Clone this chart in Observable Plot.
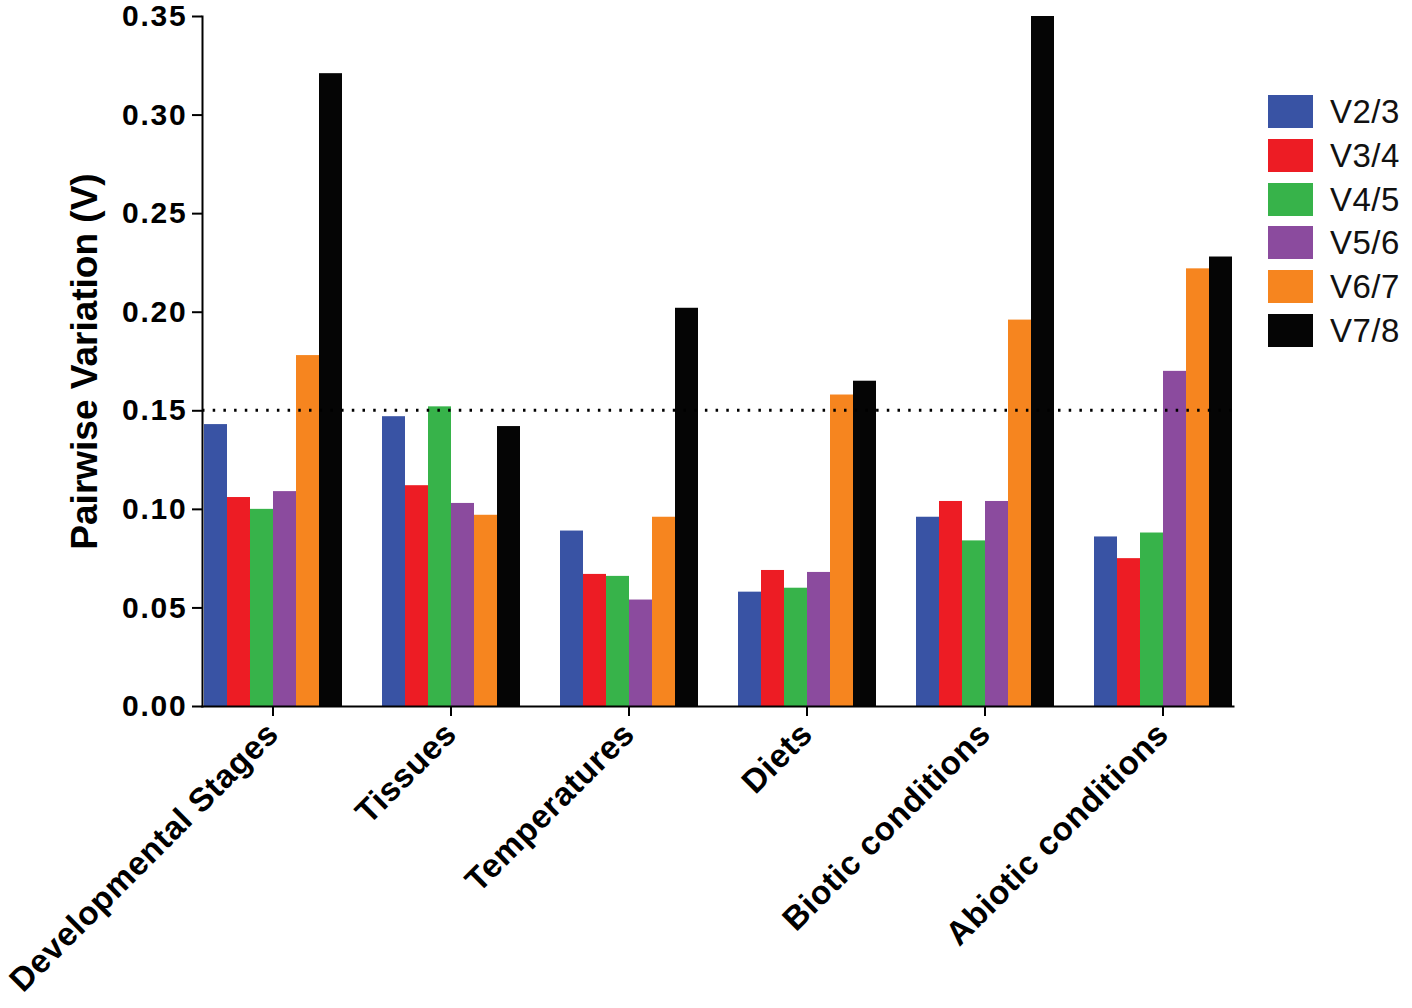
<!DOCTYPE html>
<html>
<head>
<meta charset="utf-8">
<script src="https://cdn.jsdelivr.net/npm/d3@7"></script>
<script src="https://cdn.jsdelivr.net/npm/@observablehq/plot@0.6"></script>
<style>
  html, body { margin: 0; padding: 0; background: #fff; }
  #wrap { position: relative; width: 1412px; height: 1008px; font-family: "Liberation Sans", Arial, sans-serif; }
  #legend { position: absolute; left: 1268px; top: 95px; }
  .row { display: flex; align-items: center; height: 33px; margin-bottom: 10.8px; }
  .sw { width: 45px; height: 33px; margin-right: 17px; }
  .lab { font-size: 33px; color: #111; line-height: 33px; letter-spacing: 0.5px; }
  svg text { font-family: "Liberation Sans", Arial, sans-serif; }
  g[aria-label="y-axis tick label"] text { font-size: 30px; font-weight: bold; letter-spacing: 1.8px; }
  g[aria-label="y-axis label"] text { font-size: 37px; font-weight: bold; }
  g[aria-label="fx-axis tick label"] text { font-size: 33px; font-weight: bold; letter-spacing: 0.6px; }
</style>
</head>
<body>
<div id="wrap"><div id="chart"></div><div id="legend"></div></div>
<script>
const categories = ["Developmental Stages", "Tissues", "Temperatures", "Diets", "Biotic conditions", "Abiotic conditions"];
const series = ["V2/3", "V3/4", "V4/5", "V5/6", "V6/7", "V7/8"];
const colors = ["#3953a4", "#ed1c24", "#37b34a", "#8b4b9e", "#f6851f", "#050505"];
const v23 = [0.143, 0.147, 0.089, 0.058, 0.096, 0.086];
const v34 = [0.106, 0.112, 0.067, 0.069, 0.104, 0.075];
const v45 = [0.100, 0.152, 0.066, 0.060, 0.084, 0.088];
const v56 = [0.109, 0.103, 0.054, 0.068, 0.104, 0.170];
const v67 = [0.178, 0.097, 0.096, 0.158, 0.196, 0.222];
const v78 = [0.321, 0.142, 0.202, 0.165, 0.350, 0.228];
const yTicks = [0, 0.05, 0.10, 0.15, 0.20, 0.25, 0.30, 0.35];
const cutoff = 0.15;

const values = [v23, v34, v45, v56, v67, v78];
const data = [];
categories.forEach((c, i) => series.forEach((s, j) => data.push({cat: c, series: s, value: values[j][i]})));

const cutoffLine = Plot.frame({
  facet: "super",
  render: (index, scales, vals, dims) => {
    const y = scales.y(cutoff);
    return d3.create("svg:line")
      .attr("x1", dims.marginLeft).attr("x2", dims.width - dims.marginRight)
      .attr("y1", y).attr("y2", y)
      .attr("stroke", "#000").attr("stroke-width", 3)
      .attr("stroke-dasharray", "2.5,8.2")
      .node();
  }
});

const chart = Plot.plot({
  width: 1412,
  height: 1008,
  marginLeft: 200,
  marginRight: 178,
  marginTop: 16,
  marginBottom: 302,
  fx: {domain: categories, paddingInner: 0.21, paddingOuter: 0, label: null},
  x: {domain: series, padding: 0, axis: null},
  y: {domain: [0, 0.35], clamp: true},
  color: {domain: series, range: colors},
  marks: [
    Plot.barY(data, {fx: "cat", x: "series", y: "value", fill: "series"}),
    cutoffLine,
    Plot.frame({anchor: "left", facet: "super", stroke: "#000", strokeWidth: 2}),
    Plot.frame({anchor: "bottom", facet: "super", stroke: "#000", strokeWidth: 2}),
    Plot.axisY({ticks: yTicks, tickFormat: ".2f", tickSize: 10, tickPadding: 5, label: "Pairwise Variation (V)", labelAnchor: "center", labelOffset: 132, labelArrow: "none", stroke: "#000", strokeWidth: 2, fill: "#000"}),
    Plot.axisFx({anchor: "bottom", tickRotate: -45, tickSize: 10, tickPadding: 12, label: null, stroke: "#000", strokeWidth: 2, fill: "#000"})
  ]
});
document.getElementById("chart").appendChild(chart);

const legend = document.getElementById("legend");
series.forEach((s, i) => {
  const row = document.createElement("div");
  row.className = "row";
  row.innerHTML = `<div class="sw" style="background:${colors[i]}"></div><div class="lab">${s}</div>`;
  legend.appendChild(row);
});
</script>
</body>
</html>
